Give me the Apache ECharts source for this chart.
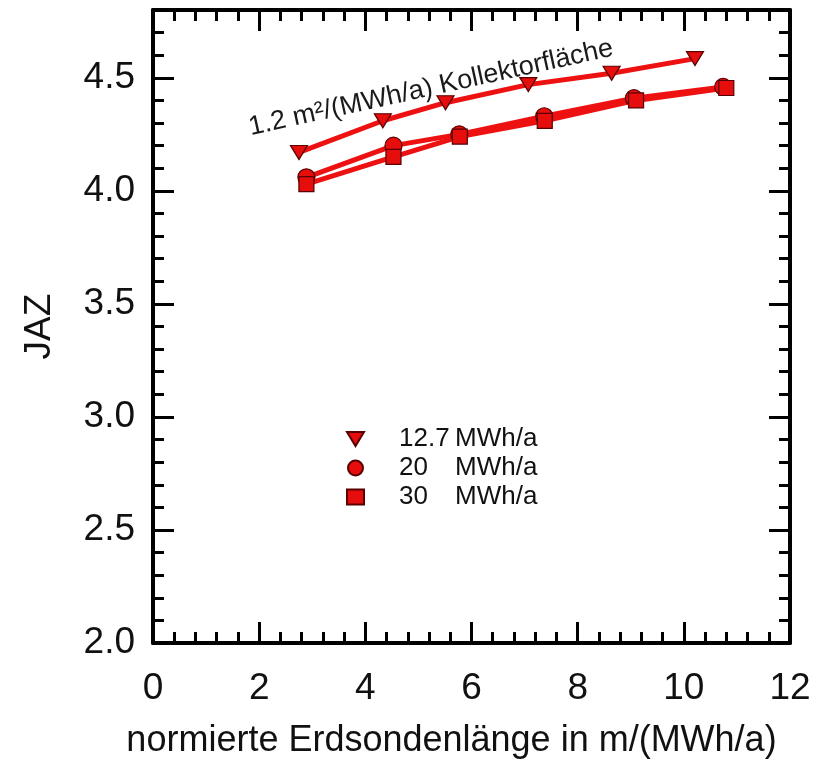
<!DOCTYPE html>
<html>
<head>
<meta charset="utf-8">
<script src="https://cdn.jsdelivr.net/npm/echarts@6/dist/echarts.min.js"></script>
<style>html,body{margin:0;padding:0;background:#fff}#c{width:821px;height:764px}</style>
</head>
<body>
<div id="c"></div>
<script>
var seriesNames = ['12.7', '20', '30'];
var triX = [2.75, 4.33, 5.51, 7.07, 8.64, 10.21];
var triY = [4.17, 4.31, 4.39, 4.47, 4.52, 4.585];
var cirX = [2.89, 4.53, 5.77, 7.37, 9.06, 10.74];
var cirY = [4.06, 4.20, 4.25, 4.33, 4.41, 4.46];
var sqX = [2.89, 4.53, 5.78, 7.38, 9.10, 10.80];
var sqY = [4.03, 4.15, 4.24, 4.31, 4.40, 4.455];
var xTicks = [0, 2, 4, 6, 8, 10, 12];
var yTicks = ['2.0', '2.5', '3.0', '3.5', '4.0', '4.5'];

function pairs(xs, ys) { return xs.map(function (x, i) { return [x, ys[i]]; }); }

var FONT = '"Liberation Sans", Arial, sans-serif';
var triPath = 'path://M0,0L17,0L8.5,14Z';
var lineColor = '#ee1111';
var markColor = '#e60d0d';
var markBorder = '#5a0000';

function yAx(pos, major, labels) {
  return {
    type: 'value', position: pos, min: 2, max: 4.8,
    interval: major ? 0.5 : 0.1,
    axisLine: { show: !major, lineStyle: { color: '#000', width: 4 } },
    axisTick: { show: true, inside: true, length: major ? 21 : 11, lineStyle: { color: '#000', width: 3 } },
    axisLabel: labels ? {
      show: true, fontSize: 37, fontFamily: FONT, color: '#111', margin: 18, showMaxLabel: false,
      formatter: function (v) { var s = v.toFixed(1); return yTicks.indexOf(s) >= 0 ? s : ''; }
    } : { show: false },
    splitLine: { show: false },
    name: labels ? 'JAZ' : '',
    nameLocation: 'middle', nameGap: 95,
    nameTextStyle: { fontSize: 37, fontFamily: FONT, color: '#111' }
  };
}
function xAx(pos, labels) {
  return {
    type: 'value', position: pos, min: 0, max: 12, interval: 2,
    axisLine: { show: true, lineStyle: { color: '#000', width: 4 } },
    axisTick: { show: true, inside: true, length: 21, lineStyle: { color: '#000', width: 3 } },
    minorTick: { show: true, splitNumber: 5, length: 11, lineStyle: { color: '#000', width: 3 } },
    axisLabel: labels ? {
      show: true, fontSize: 37, fontFamily: FONT, color: '#111', margin: 27,
      formatter: function (v) { return xTicks.indexOf(v) >= 0 ? String(v) : ''; }
    } : { show: false },
    splitLine: { show: false },
    name: labels ? 'normierte Erdsondenlänge in m/(MWh/a)' : '',
    nameLocation: 'middle', nameGap: 80,
    nameTextStyle: { fontSize: 36, fontFamily: FONT, color: '#111', padding: [0, 40, 0, 0] }
  };
}

function ser(name, data, symbol, size) {
  return {
    name: name, type: 'line', data: data, symbol: symbol, symbolSize: size,
    lineStyle: { color: lineColor, width: 5 },
    itemStyle: { color: markColor, borderColor: markBorder, borderWidth: 1.2 },
    z: 2
  };
}

var chart = echarts.init(document.getElementById('c'), null, { renderer: 'canvas' });
chart.setOption({
  animation: false,
  backgroundColor: '#fff',
  grid: { left: 153, right: 31, top: 10, bottom: 119, containLabel: false },
  xAxis: [xAx('bottom', true), xAx('top', false)],
  yAxis: [yAx('left', false, false), yAx('left', true, true), yAx('right', false, false), yAx('right', true, false)],
  legend: {
    orient: 'vertical', left: 341, top: 421, itemGap: 3, itemWidth: 17, itemHeight: 15,
    data: [
      { name: seriesNames[0], icon: triPath },
      { name: seriesNames[1], icon: 'circle' },
      { name: seriesNames[2], icon: 'rect' }
    ],
    formatter: function (n) { return '{s|}{a|' + n + '}{b|MWh/a}'; },
    textStyle: {
      fontSize: 26, fontFamily: FONT, color: '#111', lineHeight: 24,
      rich: {
        s: { width: 30 },
        a: { width: 56, fontSize: 26, fontFamily: FONT, color: '#111', lineHeight: 24 },
        b: { fontSize: 26, fontFamily: FONT, color: '#111', lineHeight: 24 }
      }
    }
  },
  graphic: [{
    type: 'text', x: 431, y: 88, rotation: 0.216, originX: 0, originY: 0,
    style: { text: '1.2 m²/(MWh/a) Kollektorfläche', font: '27px ' + FONT, fill: '#1a1a1a', align: 'center', verticalAlign: 'middle' }
  }],
  series: [
    ser(seriesNames[0], pairs(triX, triY), triPath, [17, 14]),
    ser(seriesNames[1], pairs(cirX, cirY), 'circle', 17),
    ser(seriesNames[2], pairs(sqX, sqY), 'rect', 15)
  ]
});
</script>
</body>
</html>
